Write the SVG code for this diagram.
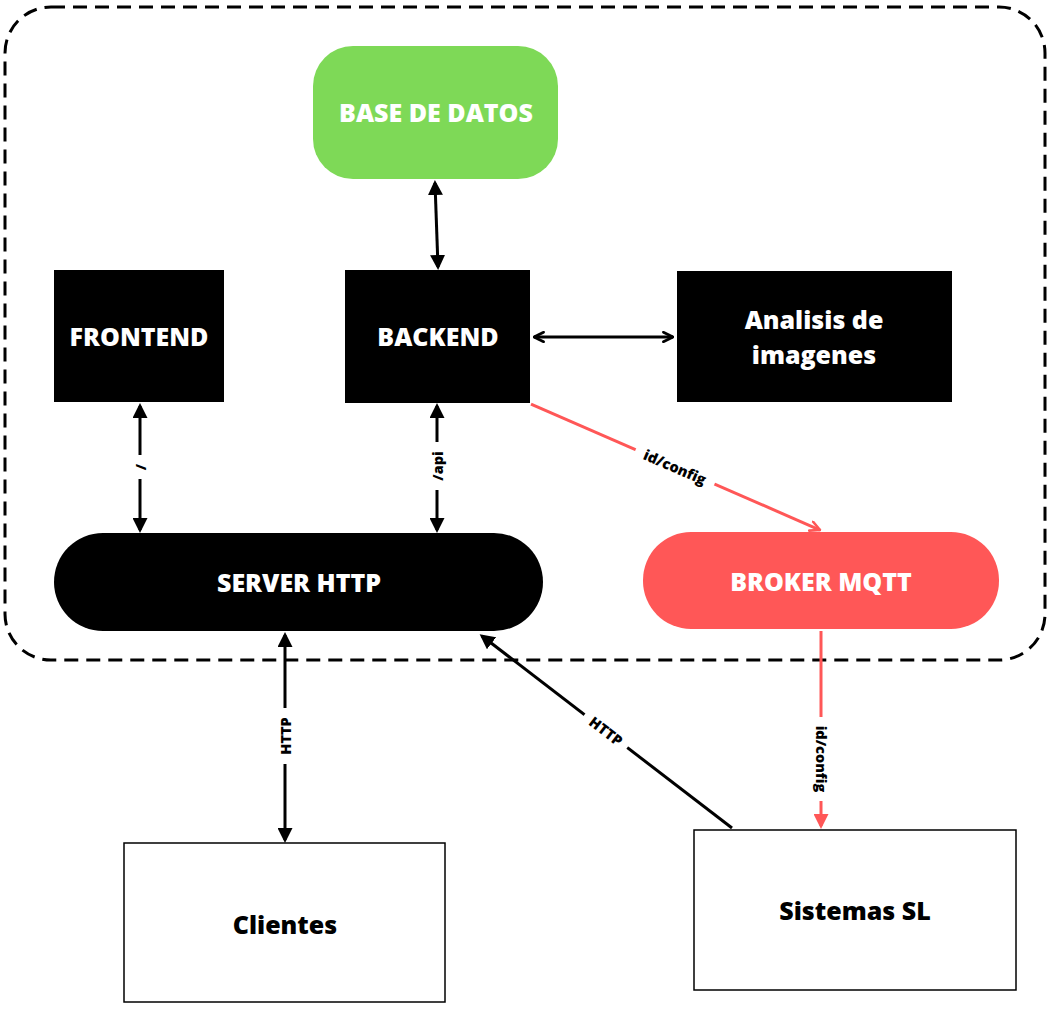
<svg xmlns="http://www.w3.org/2000/svg" width="1056" height="1011" viewBox="0 0 1056 1011">
<style>
.t{font-family:"Open Sans","Liberation Sans",sans-serif;font-weight:800;fill:#fff;font-size:25px;text-anchor:middle;dominant-baseline:central}
.tb{fill:#000}
.lbl{font-family:"Open Sans","Liberation Sans",sans-serif;font-weight:800;font-size:14.5px;fill:#000;text-anchor:middle;dominant-baseline:central}
.k{stroke:#000;stroke-width:3;fill:none}
.r{stroke:#ff5757;stroke-width:3;fill:none}
</style>
<defs>
<marker id="af" viewBox="0 0 10 10" refX="8" refY="5" markerWidth="5" markerHeight="5" orient="auto-start-reverse" markerUnits="strokeWidth"><path d="M0,0 L10,5 L0,10 z" fill="#000"/></marker>
<marker id="ao" viewBox="0 0 10 10" refX="9" refY="5" markerWidth="4" markerHeight="4" orient="auto-start-reverse" markerUnits="strokeWidth"><path d="M1,1 L9,5 L1,9" fill="none" stroke="#000" stroke-width="2.2" stroke-linecap="round" stroke-linejoin="round"/></marker>
<marker id="ro" viewBox="0 0 10 10" refX="9" refY="5" markerWidth="4" markerHeight="4" orient="auto" markerUnits="strokeWidth"><path d="M1,1 L9,5 L1,9" fill="none" stroke="#ff5757" stroke-width="2.2" stroke-linecap="round" stroke-linejoin="round"/></marker>
<marker id="rf" viewBox="0 0 10 10" refX="8" refY="5" markerWidth="5" markerHeight="5" orient="auto" markerUnits="strokeWidth"><path d="M0,0 L10,5 L0,10 z" fill="#ff5757"/></marker>
</defs>
<rect id="boundary" x="5" y="7" width="1040" height="653" rx="46" fill="none" stroke="#000" stroke-width="3" stroke-dasharray="14 8"/>

<g id="connectors">
<line class="k" x1="435" y1="183" x2="438" y2="267" marker-start="url(#af)" marker-end="url(#af)"/>
<line class="k" x1="140" y1="406" x2="140" y2="530" marker-start="url(#af)" marker-end="url(#af)"/>
<line class="k" x1="437" y1="406" x2="437" y2="530" marker-start="url(#af)" marker-end="url(#af)"/>
<line class="k" x1="534" y1="337" x2="673" y2="337" marker-start="url(#ao)" marker-end="url(#ao)"/>
<line class="r" x1="531" y1="404" x2="820" y2="530" marker-end="url(#ro)"/>
<line class="k" x1="285" y1="635" x2="285" y2="840" marker-start="url(#af)" marker-end="url(#af)"/>
<line class="k" x1="732" y1="828" x2="482" y2="636" marker-end="url(#af)"/>
<line class="r" x1="821" y1="631" x2="821" y2="826" marker-end="url(#rf)"/>

<g transform="translate(140,467)"><rect x="-9" y="-12" width="18" height="24" fill="#fff"/><text class="lbl" transform="rotate(-90)">/</text></g>
<g transform="translate(437,466)"><rect x="-10" y="-24" width="20" height="48" fill="#fff"/><text class="lbl" transform="rotate(-90)">/api</text></g>
<g transform="translate(675,467) rotate(23.5)"><rect x="-43" y="-11" width="86" height="22" fill="#fff"/><text class="lbl">id/config</text></g>
<g transform="translate(285,736)"><rect x="-10" y="-28" width="20" height="56" fill="#fff"/><text class="lbl" transform="rotate(-90)">HTTP</text></g>
<g transform="translate(606,731) rotate(37.5)"><rect x="-27" y="-10" width="54" height="20" fill="#fff"/><text class="lbl">HTTP</text></g>
<g transform="translate(821,759)"><rect x="-10" y="-42" width="20" height="84" fill="#fff"/><text class="lbl" transform="rotate(90)">id/config</text></g>
</g>

<g id="base-datos"><rect x="313" y="46" width="245" height="133" rx="40" fill="#7ed957"/><text class="t" x="436" y="112">BASE DE DATOS</text></g>
<g id="frontend"><rect x="54" y="270" width="170" height="132" fill="#000"/><text class="t" x="139" y="336">FRONTEND</text></g>
<g id="backend"><rect x="345" y="270" width="185" height="133" fill="#000"/><text class="t" x="438" y="336">BACKEND</text></g>
<g id="analisis"><rect x="677" y="271" width="275" height="131" fill="#000"/><text class="t" x="814" y="319">Analisis de</text><text class="t" x="814" y="354">imagenes</text></g>
<g id="server-http"><rect x="54" y="533" width="489" height="98" rx="49" fill="#000"/><text class="t" x="299" y="582">SERVER HTTP</text></g>
<g id="broker-mqtt"><rect x="643" y="532" width="356" height="97" rx="48" fill="#ff5757"/><text class="t" x="821" y="581">BROKER MQTT</text></g>
<g id="clientes"><rect x="124" y="843" width="321" height="159" fill="#fff" stroke="#000" stroke-width="1.5"/><text class="t tb" x="285" y="924">Clientes</text></g>
<g id="sistemas"><rect x="694" y="830" width="322" height="160" fill="#fff" stroke="#000" stroke-width="1.5"/><text class="t tb" x="855" y="910">Sistemas SL</text></g>
</svg>
